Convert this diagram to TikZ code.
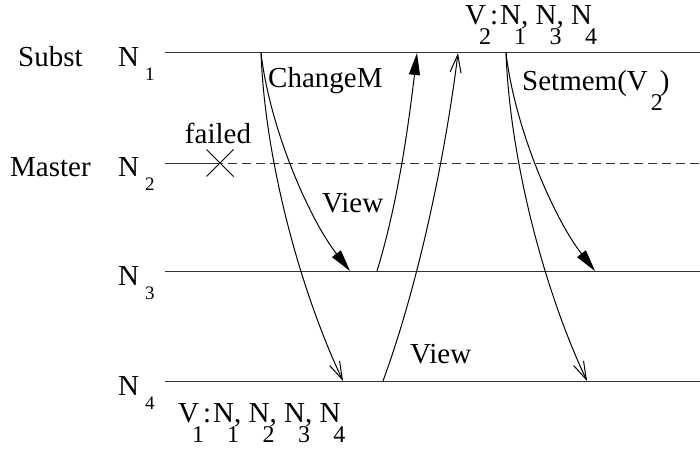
\documentclass[tikz,border=0pt]{standalone}
\usepackage{fontspec}
\setmainfont{Liberation Serif}
\usetikzlibrary{arrows.meta, shapes.misc, positioning}

% subscripts set below the letter
\newcommand{\nsub}[1]{\kern6pt\raisebox{-14pt}{\fontsize{19}{19}\selectfont #1}}
\newcommand{\lowsub}[1]{\rlap{\kern-7pt\raisebox{-20pt}{\fontsize{24}{24}\selectfont #1}}}
\newcommand{\vcolon}{\kern4pt:\kern2pt}

\tikzset{
  txt/.style={font=\fontsize{29}{32}\selectfont, inner sep=0pt, anchor=base west},
  tline/.style={line width=1pt, draw=black!80},
  msg/.style={line width=1pt, -{Triangle[length=22pt,width=11pt]}},
  ack/.style={line width=1pt, -{Straight Barb[length=18pt,width=11pt]}},
}

\begin{document}
\begin{tikzpicture}[x=1pt, y=-1pt]
  \useasboundingbox (0,0) rectangle (700,449);

  % Processes
  \node[txt] (subst) at (18,67) {Subst};
  \node[txt] (master) at (10,176) {Master};
  \node[txt] (n1) at (118,67) {N\nsub{1}};
  \node[txt] (n2) at (118,176) {N\nsub{2}};
  \node[txt] (n3) at (118,285) {N\nsub{3}};
  \node[txt] (n4) at (118,395) {N\nsub{4}};

  % Time lines
  \coordinate (t1s) at (165,53);  \coordinate (t1e) at (700,53);
  \coordinate (t2s) at (165,163); \coordinate (t2e) at (700,163);
  \coordinate (t3s) at (165,271); \coordinate (t3e) at (700,271);
  \coordinate (t4s) at (165,381); \coordinate (t4e) at (700,381);
  \node[draw, cross out, line width=1pt, minimum size=26pt, inner sep=0pt]
    (fail) at (220,163) {};
  \node[txt, anchor=base] (failed) at (218,144) {failed};

  \draw[tline] (t1s) -- (t1e);
  \draw[tline] (t2s) -- (fail.center);
  \draw[tline, dash pattern=on 9pt off 5pt, dash phase=6pt] (fail.center) -- (t2e);
  \draw[tline] (t3s) -- (t3e);
  \draw[tline] (t4s) -- (t4e);

  % Message ends
  \coordinate (cm) at (261,53);
  \coordinate (cm3) at (350,271);
  \coordinate (cm4) at (343,381);
  \coordinate (v3) at (377,271);
  \coordinate (v3top) at (417,53);
  \coordinate (v4) at (383,381);
  \coordinate (v4top) at (458,53);
  \coordinate (sm) at (506,53);
  \coordinate (sm3) at (595,271);
  \coordinate (sm4) at (587,381);

  % Messages
  \draw[msg] (cm) .. controls +(9,77) and +(-40,-51) .. (cm3);
  \draw[ack] (cm) .. controls +(4,107) and +(-43,-91) .. (cm4);
  \draw[msg] (v3) .. controls +(20,-65) and +(-9,77) .. (v3top);
  \draw[ack] (v4) .. controls +(37,-101) and +(-12,97) .. (v4top);
  \draw[msg] (sm) .. controls +(9,77) and +(-40,-51) .. (sm3);
  \draw[ack] (sm) .. controls +(4,107) and +(-43,-91) .. (sm4);

  % Labels
  \node[txt] (chg) at (268,88) {ChangeM};
  \node[txt] (view1) at (322,212) {View};
  \node[txt] (view2) at (410,363) {View};
  \node[txt] (setm) at (522,91)
    {Setmem(V\kern3pt\raisebox{-20pt}{\fontsize{24}{24}\selectfont 2}\kern-3pt)};
  \node[txt] (vnew) at (465,25)
    {V\lowsub{2}\vcolon N\lowsub{1}, N\lowsub{3}, N\lowsub{4}};
  \node[txt] (vold) at (178,422)
    {V\lowsub{1}\vcolon N\lowsub{1}, N\lowsub{2}, N\lowsub{3}, N\lowsub{4}};
\end{tikzpicture}
\end{document}
